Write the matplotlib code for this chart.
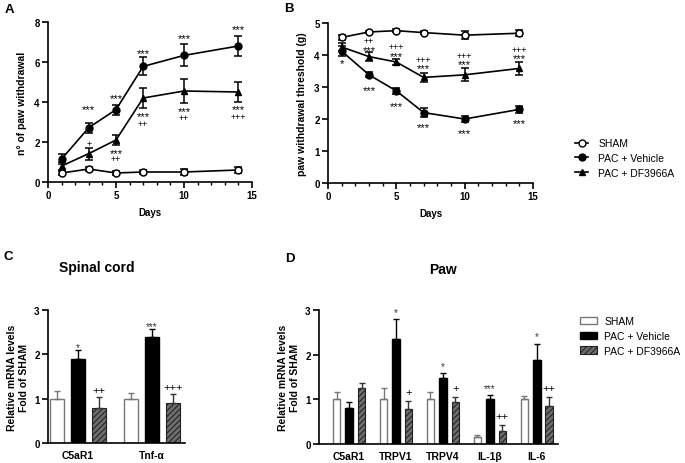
import matplotlib
matplotlib.use("Agg")
import matplotlib.pyplot as plt
import numpy as np
from matplotlib.patches import Patch
from matplotlib.lines import Line2D

plt.rcParams['font.family'] = ['Liberation Sans', 'DejaVu Sans']
plt.rcParams['font.weight'] = 'bold'
plt.rcParams['hatch.linewidth'] = 0.8

# ---------------- data ----------------
days = [1, 3, 5, 7, 10, 14]
groups = ["SHAM", "PAC + Vehicle", "PAC + DF3966A"]

a_sham = [0.45, 0.65, 0.45, 0.5, 0.5, 0.6]
a_sham_err = [0.1, 0.08, 0.08, 0.08, 0.15, 0.15]
a_veh = [1.15, 2.72, 3.62, 5.78, 6.33, 6.8]
a_veh_err = [0.25, 0.25, 0.25, 0.45, 0.55, 0.5]
a_df = [0.8, 1.42, 2.1, 4.2, 4.55, 4.5]
a_df_err = [0.2, 0.3, 0.25, 0.5, 0.6, 0.52]

b_sham = [4.55, 4.72, 4.76, 4.7, 4.62, 4.68]
b_sham_err = [0.08, 0.04, 0.04, 0.04, 0.12, 0.1]
b_veh = [4.12, 3.38, 2.88, 2.2, 2.0, 2.3]
b_veh_err = [0.15, 0.08, 0.1, 0.15, 0.1, 0.12]
b_df = [4.25, 3.95, 3.78, 3.3, 3.38, 3.58]
b_df_err = [0.13, 0.15, 0.1, 0.15, 0.2, 0.2]

c_genes = ["C5aR1", "Tnf-α"]
c_sham = [1.0, 1.0]
c_sham_err = [0.18, 0.12]
c_veh = [1.9, 2.4]
c_veh_err = [0.2, 0.18]
c_df = [0.78, 0.9]
c_df_err = [0.25, 0.2]
c_veh_sig = ["*", "***"]
c_df_sig = ["++", "+++"]

d_genes = ["C5aR1", "TRPV1", "TRPV4", "IL-1β", "IL-6"]
d_sham = [1.0, 1.0, 1.0, 0.15, 1.0]
d_sham_err = [0.17, 0.25, 0.16, 0.05, 0.08]
d_veh = [0.8, 2.35, 1.47, 1.0, 1.88]
d_veh_err = [0.13, 0.45, 0.12, 0.1, 0.37]
d_df = [1.25, 0.78, 0.95, 0.28, 0.85]
d_df_err = [0.12, 0.18, 0.1, 0.15, 0.2]
d_veh_sig = ["", "*", "*", "***", "*"]
d_df_sig = ["", "+", "+", "++", "++"]

# significance annotations for line plots: (day, y, text)
a_notes = [(3, 3.75, "***"), (5, 4.3, "***"), (7, 6.55, "***"), (10, 7.3, "***"), (14, 7.75, "***"),
           (3, 1.95, "+"),
           (5, 1.55, "***"), (5, 1.22, "++"),
           (7, 3.4, "***"), (7, 2.95, "++"),
           (10, 3.65, "***"), (10, 3.25, "++"),
           (14, 3.75, "***"), (14, 3.3, "+++")]
b_notes = [(1, 3.8, "*"),
           (3, 4.47, "++"), (3, 4.22, "***"),
           (5, 4.27, "+++"), (5, 4.04, "***"),
           (7, 3.88, "+++"), (7, 3.64, "***"),
           (10, 3.99, "+++"), (10, 3.77, "***"),
           (14, 4.2, "+++"), (14, 3.97, "***"),
           (3, 2.96, "***"), (5, 2.47, "***"), (7, 1.81, "***"), (10, 1.62, "***"), (14, 1.94, "***")]

W, H = 685, 464
fig = plt.figure(figsize=(W / 100, H / 100), dpi=100)


def ax_px(l, t, r, b):
    return fig.add_axes([l / W, 1 - b / H, (r - l) / W, (b - t) / H])


def note(ax, x, y, t, star_size, plus_size, color='black'):
    """Place a significance mark so that its glyphs are visually centred on y."""
    if '*' in t:
        ax.annotate(t, (x, y), xytext=(0, -0.18 * star_size), textcoords='offset points',
                    ha='center', va='center', fontsize=star_size, fontweight='normal', color=color,
                    annotation_clip=False)
    else:
        ax.annotate(t, (x, y), xytext=(0, -0.05 * plus_size), textcoords='offset points',
                    ha='center', va='center', fontsize=plus_size, fontweight='normal', color=color,
                    annotation_clip=False)


def style(ax):
    for s in ["top", "right"]:
        ax.spines[s].set_visible(False)
    for s in ["left", "bottom"]:
        ax.spines[s].set_linewidth(1.2)
    ax.tick_params(width=1.2, length=4, labelsize=7, pad=2)
    for lab in ax.get_xticklabels() + ax.get_yticklabels():
        lab.set_fontweight('bold')


def line_panel(ax, sham, se, veh, ve, df, de, ymax, notes, ylabel):
    kw = dict(color='black', lw=1.2, capsize=3, elinewidth=1.1, capthick=1.1, ms=5)
    ax.errorbar(days, sham, yerr=se, marker='o', mfc='white', mec='black', mew=1.1, **kw)
    ax.errorbar(days, veh, yerr=ve, marker='o', mfc='black', **kw)
    ax.errorbar(days, df, yerr=de, marker='^', mfc='black', **kw)
    ax.set_xlim(0, 15)
    ax.set_ylim(0, ymax)
    ax.set_xticks([0, 5, 10, 15])
    ax.set_xticks(range(0, 16), minor=True)
    ax.tick_params(axis='x', which='minor', length=2.5, width=1.0)
    ax.set_yticks(range(0, ymax + 1, 2 if ymax == 8 else 1))
    for d, y, t in notes:
        note(ax, d, y, t, 8, 6.5)
    ax.set_xlabel("Days", fontsize=7, fontweight='bold', labelpad=5)
    ax.set_ylabel(ylabel, fontsize=7.5, fontweight='bold', labelpad=5)
    style(ax)


axA = ax_px(48, 23, 252, 183)
line_panel(axA, a_sham, a_sham_err, a_veh, a_veh_err, a_df, a_df_err, 8, a_notes, "n° of paw withdrawal")
axB = ax_px(328, 24, 533, 184)
line_panel(axB, b_sham, b_sham_err, b_veh, b_veh_err, b_df, b_df_err, 5, b_notes, "paw withdrawal threshold (g)")


def bar_panel(ax, genes, sham, se, veh, ve, df, de, vsig, dsig, off, w, xlim, sgap, pgap, ssize, psize):
    x = np.arange(len(genes))
    ekw = dict(lw=1.0, capsize=2.5, capthick=1.0)
    ax.bar(x - off, sham, w, color='white', edgecolor='#777777', lw=1.0,
           yerr=[np.zeros(len(x)), se], error_kw=dict(ecolor='#777777', **ekw))
    ax.bar(x, veh, w, color='black', edgecolor='black', lw=1.0,
           yerr=[np.zeros(len(x)), ve], error_kw=dict(ecolor='black', **ekw))
    ax.bar(x + off, df, w, color='#6e6e6e', edgecolor='#222222', hatch='//////', lw=0.8,
           yerr=[np.zeros(len(x)), de], error_kw=dict(ecolor='#333333', **ekw))
    for i in range(len(x)):
        if vsig[i]:
            note(ax, x[i], veh[i] + ve[i] + sgap, vsig[i], ssize, psize, color='#333333')
        if dsig[i]:
            note(ax, x[i] + off, df[i] + de[i] + pgap, dsig[i], ssize, psize)
    ax.set_xlim(*xlim)
    ax.set_ylim(0, 3)
    ax.set_yticks([0, 1, 2, 3])
    ax.set_xticks(x)
    ax.set_xticklabels(genes)
    ax.set_ylabel("Relative mRNA levels\nFold of SHAM", fontsize=7.5, fontweight='bold', labelpad=4)
    style(ax)
    ax.tick_params(axis='x', length=0, labelsize=7.5, pad=5)


axC = ax_px(48, 311, 185, 444)
bar_panel(axC, c_genes, c_sham, c_sham_err, c_veh, c_veh_err, c_df, c_df_err, c_veh_sig, c_df_sig,
          0.284, 0.19, (-0.405, 1.446), 0.1, 0.18, 7, 8)
axD = ax_px(319, 311, 558, 445)
bar_panel(axD, d_genes, d_sham, d_sham_err, d_veh, d_veh_err, d_df, d_df_err, d_veh_sig, d_df_sig,
          0.266, 0.165, (-0.64, 4.45), 0.2, 0.22, 7, 8)

# titles
fig.text(97 / W, 1 - 268 / H, "Spinal cord", ha='center', va='center', fontsize=10, fontweight='bold')
fig.text(443 / W, 1 - 270 / H, "Paw", ha='center', va='center', fontsize=10, fontweight='bold')

# panel letters
for lt, px, py in [("A", 5, 10), ("B", 284, 9), ("C", 4, 257), ("D", 285, 259)]:
    fig.text(px / W, 1 - py / H, lt, ha='left', va='center', fontsize=9.5, fontweight='bold')

# legends
line_handles = [
    Line2D([], [], color='black', lw=1.2, marker='o', mfc='white', mec='black', ms=5),
    Line2D([], [], color='black', lw=1.2, marker='o', mfc='black', ms=5),
    Line2D([], [], color='black', lw=1.2, marker='^', mfc='black', ms=5),
]
legAB = fig.legend(line_handles, groups, loc='upper left', bbox_to_anchor=(566 / W, 1 - 130 / H),
                   frameon=False, fontsize=7.5, handlelength=1.2, handletextpad=1.0, labelspacing=0.45)
for t in legAB.get_texts():
    t.set_fontweight('normal')

bar_handles = [
    Patch(facecolor='white', edgecolor='#777777', lw=1.0),
    Patch(facecolor='black', edgecolor='black'),
    Patch(facecolor='#6e6e6e', edgecolor='#222222', hatch='//////', lw=0.8),
]
legCD = fig.legend(bar_handles, groups, loc='upper left', bbox_to_anchor=(571 / W, 1 - 308 / H),
                   frameon=False, fontsize=7.5, handlelength=1.6, handleheight=0.7,
                   handletextpad=0.7, labelspacing=0.45)
for t in legCD.get_texts():
    t.set_fontweight('normal')

fig.savefig("out.png", dpi=100)
